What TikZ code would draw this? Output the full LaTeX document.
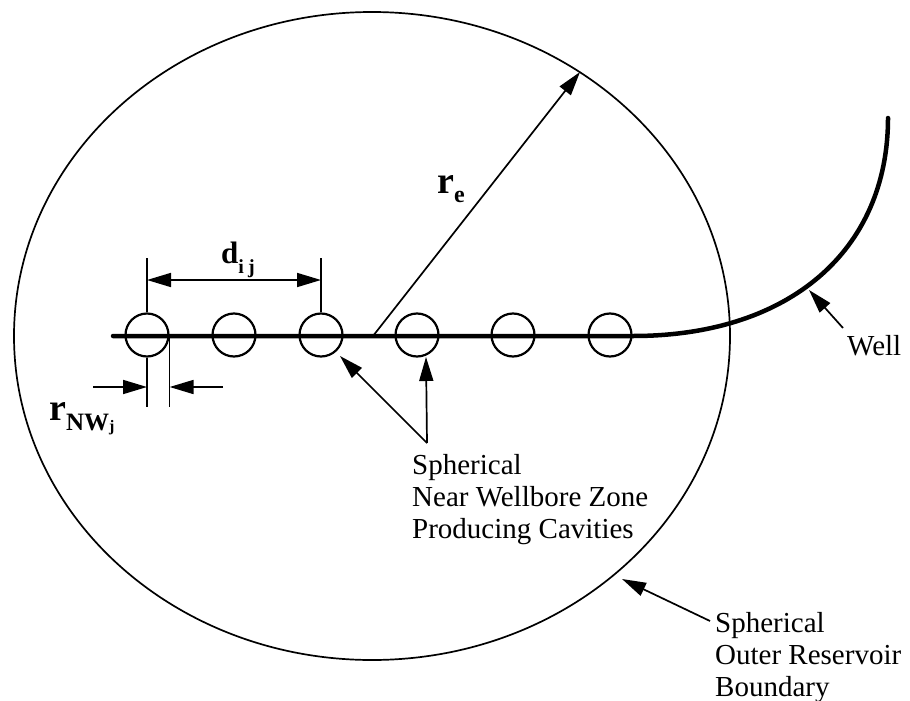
\documentclass[tikz,border=0pt]{standalone}
\usepackage{fontspec}
\setmainfont{Liberation Serif}
\usetikzlibrary{arrows.meta,positioning}

\tikzset{
  thinline/.style={line width=1.7pt},
  pointer/.style={thinline, -{Triangle[length=24pt,width=14pt]}},
  dimline/.style={thinline, {Triangle[length=24pt,width=14pt]}-{Triangle[length=24pt,width=14pt]}},
  cavity/.style={circle, draw, line width=2.2pt, minimum size=43pt, inner sep=0pt},
  note/.style={font=\fontsize{29}{32}\selectfont, align=left, inner sep=0pt},
  symb/.style={inner sep=0pt, anchor=base west}
}

\begin{document}
\begin{tikzpicture}[x=1pt, y=-1pt, line join=round]
\useasboundingbox (0,0) rectangle (910,701);
% outer reservoir boundary
\draw[thinline] (372,336) ellipse [x radius=358, y radius=324];
% well path
\draw[line width=4.5pt, line cap=round] (113,336) -- (633,336) .. controls (790,336) and (888,250) .. (888,118);
% cavities
\node[cavity] (c1) at (147,335) {};
\node[cavity] (c2) at (234,335) {};
\node[cavity] (c3) at (321,335) {};
\node[cavity] (c4) at (417,335) {};
\node[cavity] (c5) at (513,335) {};
\node[cavity] (c6) at (610,335) {};

% spacing d_ij
\coordinate (dA) at (c1.north |- 0,258);
\coordinate (dB) at (c3.north |- 0,258);
\draw[thinline] (c1.north) -- (dA);
\draw[thinline] (c3.north) -- (dB);
\draw[dimline] (c1.north |- 0,280) -- (c3.north |- 0,280);
\node[symb] (dlab) at (221,263) {\fontsize{31}{31}\selectfont\bfseries d\raisebox{-10pt}{\fontsize{20}{20}\selectfont i\hspace{4pt}j}};

% radius r_e
\coordinate (ctr) at (373,336);
\coordinate (retip) at (580,72);
\draw[pointer] (ctr) -- (retip);
\node[symb] (relab) at (437,193) {\fontsize{38}{38}\selectfont\bfseries r\raisebox{-9pt}{\fontsize{24}{24}\selectfont e}};

% cavity radius r_NW,j
\coordinate (nA) at (c1.south |- 0,407);
\coordinate (nB) at (c1.east |- 0,407);
\draw[thinline] (c1.south) -- (nA);
\draw[thinline] (c1.east) -- (nB);
\coordinate (nAt) at (93,387);
\coordinate (nBt) at (223,387);
\draw[pointer] (nAt) -- (c1.south |- nAt);
\draw[pointer] (nBt) -- (c1.east |- nBt);
\node[symb] (nwlab) at (49,420) {\fontsize{38}{38}\selectfont\bfseries r\raisebox{-10pt}{\fontsize{25}{25}\selectfont NW\raisebox{-1pt}{\fontsize{16}{16}\selectfont j}}};

% cavities label
\coordinate (cv) at (427,443);
\coordinate (cvA) at (340,356);
\coordinate (cvB) at (426,357);
\draw[pointer] (cv) -- (cvA);
\draw[pointer] (cv) -- (cvB);
\node[note, anchor=north west] (cvtxt) at (412,454) {Spherical\\Near Wellbore Zone\\Producing Cavities};

% well label
\coordinate (wlt) at (843,328);
\coordinate (wltip) at (809,290);
\draw[pointer] (wlt) -- (wltip);
\node[note, anchor=base west] (welltxt) at (847,355) {Well};

% boundary label
\coordinate (bdt) at (710,621);
\coordinate (bdtip) at (622,579);
\draw[pointer] (bdt) -- (bdtip);
\node[note, anchor=north west] (bdtxt) at (715,612) {Spherical\\Outer Reservoir\\Boundary};
\end{tikzpicture}
\end{document}
